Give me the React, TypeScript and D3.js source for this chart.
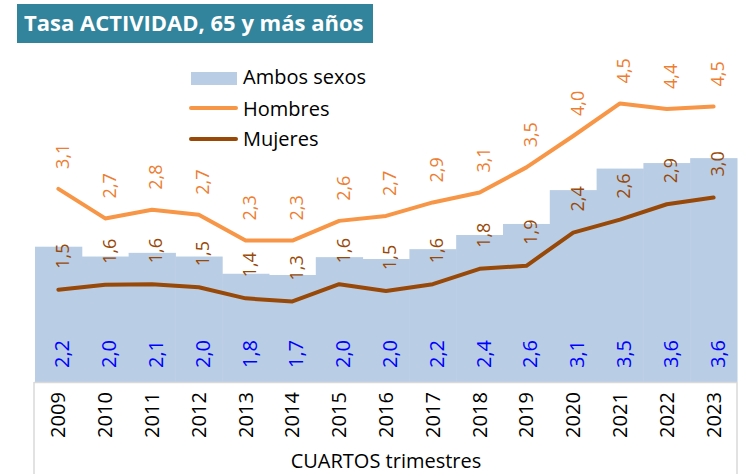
import * as d3 from 'd3';

// Tasa de actividad, 65 y más años (cuartos trimestres)
const years = ['2009', '2010', '2011', '2012', '2013', '2014', '2015', '2016', '2017', '2018', '2019', '2020', '2021', '2022', '2023'];
const ambos = [2.2, 2.04, 2.1, 2.04, 1.76, 1.74, 2.03, 2.0, 2.16, 2.39, 2.57, 3.12, 3.47, 3.56, 3.64];
const hombres = [3.14, 2.66, 2.8, 2.72, 2.3, 2.3, 2.62, 2.7, 2.92, 3.08, 3.49, 4.0, 4.53, 4.44, 4.48];
const mujeres = [1.5, 1.58, 1.59, 1.54, 1.36, 1.31, 1.59, 1.48, 1.59, 1.84, 1.89, 2.43, 2.64, 2.89, 3.0];

const title = 'Tasa ACTIVIDAD, 65 y más años';
const xTitle = 'CUARTOS trimestres';

const W = 740;
const H = 474;
const FONT = '"Open Sans", "Noto Sans", sans-serif';

const fmt = (v: number) => d3.format('.1f')(v).replace('.', ',');

export default function App() {
  const baseY = 382;
  const x = d3.scaleBand<string>().domain(years).range([35, 737]).padding(0);
  const y = d3.scaleLinear().domain([0, 5]).range([baseY, baseY - 307.5]);
  const cx = (i: number) => (x(years[i]) || 0) + x.bandwidth() / 2;

  const line = d3.line<number>()
    .x((_, i) => cx(i))
    .y(d => y(d));

  const rotLabel = (px: number, py: number, txt: string, color: string, size: number, key: string) => (
    <text
      key={key}
      transform={`translate(${px + 4},${py}) rotate(-90)`}
      dy="0.35em"
      textAnchor="start"
      fill={color}
      fontSize={size}
    >
      {txt}
    </text>
  );

  return (
    <svg width={W} height={H} style={{ position: 'absolute', left: 0, top: 0, fontFamily: FONT }}>
      <rect width={W} height={H} fill="#fff" />

      {/* title box */}
      <rect x={17} y={4} width={356} height={39} fill="#31849B" />
      <text x={24} y={31} fill="#fff" fontSize={22} fontWeight="bold">{title}</text>

      {/* Ambos sexos bars */}
      {ambos.map((v, i) => (
        <rect key={'b' + i} x={x(years[i])} y={y(v)} width={x.bandwidth() + 0.5} height={baseY - y(v)} fill="#B9CDE5" />
      ))}

      {/* category frame */}
      <line x1={34} x2={737} y1={baseY + 0.5} y2={baseY + 0.5} stroke="#D9D9D9" strokeWidth={1.5} />
      <line x1={34} x2={34} y1={baseY} y2={H} stroke="#D9D9D9" strokeWidth={1.5} />
      <line x1={737} x2={737} y1={baseY} y2={H} stroke="#D9D9D9" strokeWidth={1.5} />

      <path d={line(mujeres) || ''} fill="none" stroke="#984807" strokeWidth={4} strokeLinejoin="round" strokeLinecap="round" />
      <path d={line(hombres) || ''} fill="none" stroke="#F79646" strokeWidth={4} strokeLinejoin="round" strokeLinecap="round" />

      {ambos.map((v, i) => rotLabel(cx(i), 368, fmt(v), '#0000FF', 20, 'la' + i))}
      {mujeres.map((v, i) => rotLabel(cx(i), y(v) - 21, fmt(v), '#984807', 18, 'lm' + i))}
      {hombres.map((v, i) => rotLabel(cx(i), y(v) - 20, fmt(v), '#ED7D31', 18, 'lh' + i))}

      {/* category labels */}
      {years.map((yr, i) => (
        <text key={'c' + i} transform={`translate(${cx(i)},415) rotate(-90)`} dy="0.35em" textAnchor="middle" fontSize={20} fill="#000">
          {yr}
        </text>
      ))}
      <text x={386} y={468} textAnchor="middle" fontSize={20} fill="#000">{xTitle}</text>

      {/* legend */}
      <rect x={191} y={72} width={46} height={13} fill="#B9CDE5" />
      <text x={243} y={84} fontSize={20} fill="#000">Ambos sexos</text>
      <line x1={191} x2={236} y1={108} y2={108} stroke="#F79646" strokeWidth={4} strokeLinecap="round" />
      <text x={243} y={116} fontSize={20} fill="#000">Hombres</text>
      <line x1={191} x2={236} y1={139} y2={139} stroke="#984807" strokeWidth={4} strokeLinecap="round" />
      <text x={243} y={146} fontSize={20} fill="#000">Mujeres</text>
    </svg>
  );
}
